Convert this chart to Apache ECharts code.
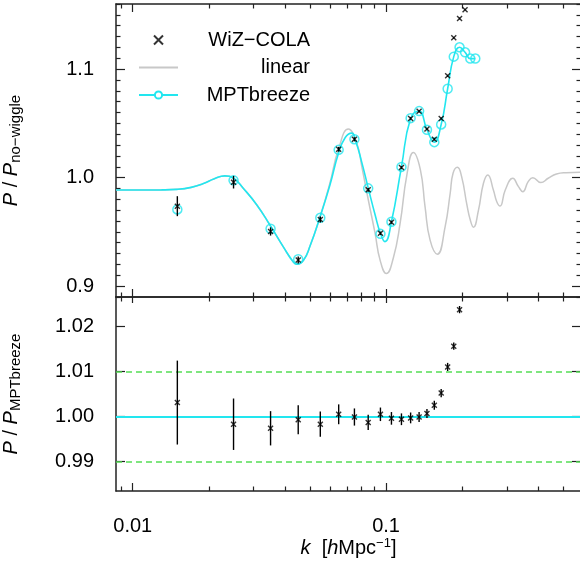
<!DOCTYPE html>
<html><head><meta charset="utf-8">
<script src="https://cdn.jsdelivr.net/npm/echarts@6/dist/echarts.min.js"></script>
<style>html,body{margin:0;padding:0;background:#fff}#c{width:580px;height:576px}</style>
</head><body><div id="c"></div>
<script>
// ---------- data ----------
const kBins = [0.015,0.025,0.035,0.045,0.055,0.065,0.075,0.085,0.095,0.105,0.115,0.125,0.135,0.145,0.155,0.165,0.175,0.185,0.195,0.205];
const wizTop = [0.9737,0.9958,0.9504,0.9241,0.9614,1.0261,1.0353,0.9888,0.9487,0.9589,1.0093,1.0545,1.0612,1.0448,1.0353,1.0545,1.0938,1.1288,1.1466,1.1547];
const wizTopErr = [0.0092,0.0058,0.0038,0.0032,0.0028,0.0022,0.0019,0.0017,0.0015,0.0014,0.0013,0.0012,0.0011,0.0010,0.0010,0.0009,0.0009,0.0008,0.0008,0.0008];
const kBreeze = [0.015,0.025,0.035,0.045,0.055,0.065,0.075,0.085,0.095,0.105,0.115,0.125,0.135,0.145,0.155,0.165,0.175,0.185,0.195,0.205,0.215,0.225];
const breezeBinned = [0.9707,0.9975,0.9529,0.9248,0.9630,1.0256,1.0354,0.9901,0.9482,0.9593,1.0099,1.0548,1.0613,1.0441,1.0327,1.0490,1.0819,1.1115,1.1201,1.1155,1.1097,1.1097];
const kRatio = [0.015,0.025,0.035,0.045,0.055,0.065,0.075,0.085,0.095,0.105,0.115,0.125,0.135,0.145,0.155,0.165,0.175,0.185,0.195];
const ratio = [1.0031,0.9983,0.9974,0.9993,0.9983,1.0005,0.9999,0.9987,1.0005,0.9996,0.9994,0.9997,0.9999,1.0007,1.0025,1.0052,1.0110,1.0156,1.0237];
const ratioErr = [0.0093,0.0057,0.0038,0.0032,0.0028,0.0022,0.0019,0.0017,0.0015,0.0014,0.0013,0.0012,0.0011,0.0010,0.0010,0.0009,0.0009,0.0008,0.0008];
const kLinear = [0.0086,0.011,0.013,0.015,0.017,0.019,0.021,0.0231,0.025,0.0273,0.0309,0.0348,0.0393,0.0430,0.0444,0.0472,0.0501,0.0548,0.0600,0.0648,0.0710,0.0766,0.0802,0.0851,0.0905,0.0947,0.1003,0.1068,0.1136,0.1209,0.1281,0.1366,0.1425,0.1492,0.1594,0.171,0.1791,0.1838,0.1912,0.1987,0.2085,0.2150,0.2212,0.2316,0.2423,0.252,0.2652,0.2735,0.2818,0.2954,0.3164,0.3331,0.3465,0.3638,0.3795,0.408,0.4363,0.4705,0.5137,0.588];
const linear = [0.9886,0.9886,0.9887,0.9892,0.9910,0.9945,0.9990,1.0016,0.9994,0.9902,0.9748,0.9563,0.9362,0.9224,0.9202,0.9239,0.9370,0.9634,0.9948,1.0256,1.0447,1.0318,1.0102,0.9794,0.9486,0.9240,0.9116,0.9260,0.9578,1.0030,1.0231,1.0071,0.9732,0.9424,0.9295,0.9547,0.9856,1.0041,1.0096,1.0009,0.9748,0.9609,0.9542,0.9701,0.9948,1.0025,0.9886,0.9778,0.9738,0.9886,0.9994,0.9917,0.9871,0.9963,1.0000,0.9954,0.9994,1.0034,1.0046,1.0050];
const kCurve = [0.0086,0.011,0.013,0.015,0.017,0.019,0.021,0.0231,0.025,0.0273,0.0309,0.0348,0.0393,0.0430,0.0444,0.0472,0.0501,0.0548,0.0600,0.0648,0.0690,0.0732,0.0760,0.0800,0.0851,0.0905,0.0950,0.0990,0.105,0.115,0.125,0.135,0.145,0.155,0.165,0.175,0.185,0.195,0.205,0.215,0.225];
const mptCurve = [0.9886,0.9886,0.9887,0.9892,0.9910,0.9945,0.9990,1.0016,0.9994,0.9902,0.9748,0.9563,0.9362,0.9224,0.9202,0.9239,0.9370,0.9634,0.9930,1.0220,1.0370,1.0410,1.0330,1.0150,0.9901,0.9658,0.9486,0.9410,0.9593,1.0099,1.0548,1.0613,1.0441,1.0327,1.0490,1.0819,1.1115,1.1201,1.1155,1.1097,1.1097];
// ticks
const xMajorTicks = [0.01, 0.1];
const xTickLabels = ['0.01', '0.1'];
const xMinorTicks = [0.009,0.02,0.03,0.04,0.05,0.06,0.07,0.08,0.09,0.2,0.3,0.4,0.5];
const yTopMajor = [0.9, 1.0, 1.1];
const yTopLabels = ['0.9', '1.0', '1.1'];
const yTopMinor = [0.89,0.91,0.92,0.93,0.94,0.95,0.96,0.97,0.98,0.99,1.01,1.02,1.03,1.04,1.05,1.06,1.07,1.08,1.09,1.11,1.12,1.13,1.14,1.15,1.16];
const yBotMajor = [0.99, 1.00, 1.01, 1.02];
const yBotLabels = ['0.99', '1.00', '1.01', '1.02'];
const refLines = [0.99, 1.00, 1.01];

// ---------- styles ----------
const FONT = '"Liberation Sans", Arial, Helvetica, sans-serif';
const CYAN = '#22e6ef';
const GRAY = '#c8c8c8';
const GREEN = '#55dd55';
const AX = '#222';
const X_MIN = 0.00859, X_MAX = 0.588;

function lookup(vals, labels) {
  return v => { let b = 0, d = Infinity; vals.forEach((t, i) => { const e = Math.abs(t - v); if (e < d) { d = e; b = i; } }); return labels[b]; };
}
function mkX(grid, pos, ticks, len, extra) {
  return Object.assign({
    type: 'log', logBase: 10, gridIndex: grid, position: pos, min: X_MIN, max: X_MAX,
    axisLine: { show: false, onZero: false },
    splitLine: { show: false },
    axisTick: { show: true, inside: true, length: len, customValues: ticks, lineStyle: { color: AX, width: 1.2 } },
    axisLabel: { show: false },
    minorTick: { show: false }
  }, extra || {});
}
function mkY(grid, pos, min, max, ticks, len, extra) {
  return Object.assign({
    type: 'value', gridIndex: grid, position: pos, min: min, max: max,
    axisLine: { show: false, onZero: false },
    splitLine: { show: false },
    axisTick: { show: true, inside: true, length: len, customValues: ticks, lineStyle: { color: AX, width: 1.2 } },
    axisLabel: { show: false },
    minorTick: { show: false }
  }, extra || {});
}
const lineOn = (w) => ({ show: true, onZero: false, lineStyle: { color: AX, width: w } });
const rich = {
  i: { fontFamily: FONT, fontSize: 20, fontStyle: 'italic', lineHeight: 26, color: '#000' },
  n: { fontFamily: FONT, fontSize: 20, lineHeight: 26, color: '#000' },
  s: { fontFamily: FONT, fontSize: 15, lineHeight: 15, padding: [10, 0, 0, 0], color: '#000' },
  sup: { fontFamily: FONT, fontSize: 13, lineHeight: 13, padding: [0, 0, 11, 0], color: '#000' }
};
const labelStyle = { show: true, fontFamily: FONT, fontSize: 20, color: '#000' };

const xAxes = [
  mkX(0, 'bottom', xMajorTicks, 8, { axisLine: lineOn(1.5) }),
  mkX(0, 'bottom', xMinorTicks, 4.5),
  mkX(0, 'top', xMajorTicks, 8, { axisLine: lineOn(1.5) }),
  mkX(0, 'top', xMinorTicks, 4.5),
  mkX(1, 'bottom', xMajorTicks, 8, {
    axisLine: lineOn(1.5),
    axisLabel: Object.assign({}, labelStyle, { customValues: xMajorTicks, margin: 25, formatter: lookup(xMajorTicks, xTickLabels) }),
    name: '{i|k}{n|  [}{i|h}{n|Mpc}{sup|−1}{n|]}', nameLocation: 'middle', nameGap: 37,
    nameTextStyle: { rich: rich }
  }),
  mkX(1, 'bottom', xMinorTicks, 4.5),
  mkX(1, 'top', xMajorTicks, 6, { axisLine: lineOn(1.5) }),
  mkX(1, 'top', xMinorTicks, 4.5)
];
const yAxes = [
  mkY(0, 'left', 0.89, 1.16, yTopMajor, 9, {
    axisLine: lineOn(1.5),
    axisLabel: Object.assign({}, labelStyle, { customValues: yTopMajor, margin: 22, formatter: lookup(yTopMajor, yTopLabels) }),
    name: '{i|P}{n| / }{i|P}{s|no−wiggle}', nameLocation: 'middle', nameRotate: 90, nameGap: 92,
    nameTextStyle: { rich: rich }
  }),
  mkY(0, 'left', 0.89, 1.16, yTopMinor, 4.5),
  mkY(0, 'right', 0.89, 1.16, yTopMajor, 9),
  mkY(0, 'right', 0.89, 1.16, yTopMinor, 4.5),
  mkY(1, 'left', 0.9835, 1.0265, yBotMajor, 9, {
    axisLine: lineOn(1.5),
    axisLabel: Object.assign({}, labelStyle, { customValues: yBotMajor, margin: 22, formatter: lookup(yBotMajor, yBotLabels) }),
    name: '{i|P}{n| / }{i|P}{s|MPTbreeze}', nameLocation: 'middle', nameRotate: 90, nameGap: 92,
    nameTextStyle: { rich: rich }
  }),
  mkY(1, 'right', 0.9835, 1.0265, yBotMajor, 9)
];

function errBars(xi, yi, ks, vals, errs, z) {
  return {
    type: 'custom', xAxisIndex: xi, yAxisIndex: yi, z: z, silent: true,
    data: ks.map((k, i) => [k, vals[i] - errs[i], vals[i] + errs[i]]),
    encode: { x: 0, y: [1, 2] },
    renderItem: function (params, api) {
      const a = api.coord([api.value(0), api.value(1)]);
      const b = api.coord([api.value(0), api.value(2)]);
      return { type: 'line', shape: { x1: a[0], y1: a[1], x2: b[0], y2: b[1] }, style: { stroke: '#000', lineWidth: 1.4 } };
    }
  };
}
const CROSS = 'path://M0 0L10 10M10 0L0 10';
const crossStyle = { color: 'rgba(0,0,0,0)', borderColor: '#000', borderWidth: 1.4 };

const series = [
  { name: 'linear', type: 'line', xAxisIndex: 0, yAxisIndex: 0, z: 2, smooth: 0.5, symbol: 'none', showSymbol: false,
    color: GRAY, lineStyle: { color: GRAY, width: 1.5 }, data: kLinear.map((k, i) => [k, linear[i]]) },
  { name: 'MPTbreeze', type: 'line', xAxisIndex: 0, yAxisIndex: 0, z: 3, smooth: 0.5, symbol: 'emptyCircle', showSymbol: false,
    color: CYAN, lineStyle: { color: CYAN, width: 1.6 }, data: kCurve.map((k, i) => [k, mptCurve[i]]) },
  { name: 'MPTbreeze', type: 'scatter', xAxisIndex: 0, yAxisIndex: 0, z: 4, symbol: 'circle', symbolSize: 9,
    itemStyle: { color: 'rgba(0,0,0,0)', borderColor: CYAN, borderWidth: 1.5 }, data: kBreeze.map((k, i) => [k, breezeBinned[i]]) },
  errBars(0, 0, kBins, wizTop, wizTopErr, 5),
  { name: 'WiZ−COLA', type: 'scatter', xAxisIndex: 0, yAxisIndex: 0, z: 6, symbol: CROSS, symbolSize: 5,
    itemStyle: crossStyle, data: kBins.map((k, i) => [k, wizTop[i]]) },
  { name: 'refs', type: 'line', xAxisIndex: 4, yAxisIndex: 4, z: 1, data: [], symbol: 'none',
    markLine: { silent: true, symbol: ['none', 'none'], label: { show: false }, animation: false,
      data: [
        { yAxis: refLines[0], lineStyle: { color: GREEN, type: [6, 4], width: 1.5 } },
        { yAxis: refLines[1], lineStyle: { color: CYAN, type: 'solid', width: 2 } },
        { yAxis: refLines[2], lineStyle: { color: GREEN, type: [6, 4], width: 1.5 } }
      ] } },
  errBars(4, 4, kRatio, ratio, ratioErr, 5),
  { name: 'ratio', type: 'scatter', xAxisIndex: 4, yAxisIndex: 4, z: 6, symbol: CROSS, symbolSize: 5,
    itemStyle: crossStyle, data: kRatio.map((k, i) => [k, ratio[i]]) }
];

const chart = echarts.init(document.getElementById('c'), null, { renderer: 'canvas' });
chart.setOption({
  animation: false,
  backgroundColor: '#fff',
  grid: [
    { left: 116, top: 4, width: 465, height: 293, outerBoundsMode: 'none', containLabel: false },
    { left: 116, top: 297, width: 465, height: 194, outerBoundsMode: 'none', containLabel: false }
  ],
  legend: {
    data: [{ name: 'WiZ−COLA' }, { name: 'linear', icon: 'path://M0 0L20 0L20 1L0 1Z' }, { name: 'MPTbreeze' }],
    orient: 'vertical', left: 133, top: 25, padding: 5, itemWidth: 39, itemHeight: 9, itemGap: 7.5,
    formatter: '{a|{name}}',
    textStyle: { rich: { a: { width: 127, align: 'right', fontFamily: FONT, fontSize: 20, lineHeight: 22, color: '#000' } } },
    selectedMode: false
  },
  xAxis: xAxes,
  yAxis: yAxes,
  series: series
});
</script></body></html>
